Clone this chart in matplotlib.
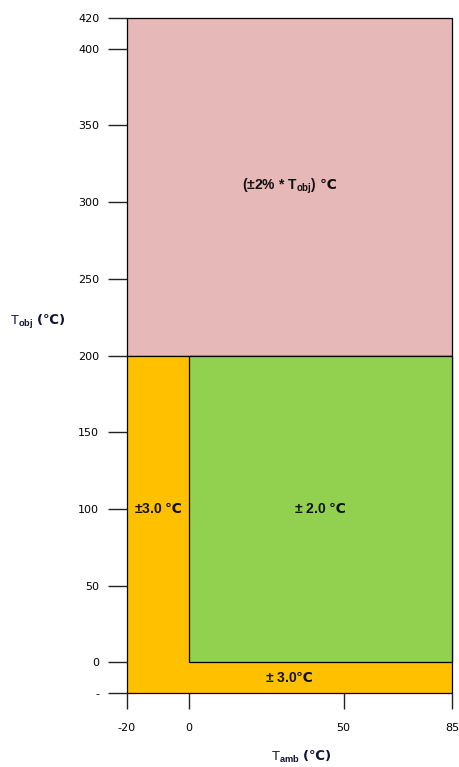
import matplotlib
matplotlib.use('Agg')
import matplotlib.pyplot as plt
from matplotlib.patches import Rectangle

plt.rcParams['mathtext.fontset'] = 'custom'
plt.rcParams['mathtext.bf'] = 'Liberation Sans:bold'
plt.rcParams['mathtext.rm'] = 'Noto Sans CJK SC:bold'
plt.rcParams['mathtext.it'] = 'Liberation Sans:italic'

# ---- data ----
x_range = [-20, 85]
y_range = [-20, 420]
region_x0 = [-20, -20, 0]
region_x1 = [85, 85, 85]
region_y0 = [200, -20, 0]
region_y1 = [420, 200, 200]
region_colors = ['#E6B8B7', '#FFC000', '#92D050']

label_texts = [r"(±2% * T$_{\mathbf{obj}}$) $\mathrm{℃}$",
               r"±3.0 $\mathrm{℃}$",
               r"± 2.0 $\mathrm{℃}$",
               r"± 3.0$\mathrm{℃}$"]
label_x = [32.5, -10, 42.5, 32.5]
label_y = [310, 100, 100, -10]

xticks = [-20, 0, 50, 85]
xtick_labels = ['-20', '0', '50', '85']
yticks = [-20, 0, 50, 100, 150, 200, 250, 300, 350, 400, 420]
ytick_labels = ['-', '0', '50', '100', '150', '200', '250', '300', '350', '400', '420']

# ---- figure ----
W, H = 459, 767
fig = plt.figure(figsize=(W / 100, H / 100), dpi=100)
ax = fig.add_axes([127 / W, 1 - 693 / H, (452 - 127) / W, (693 - 18) / H])
ax.set_xlim(*x_range)
ax.set_ylim(*y_range)

for x0, x1, y0, y1, c in zip(region_x0, region_x1, region_y0, region_y1, region_colors):
    ax.add_patch(Rectangle((x0, y0), x1 - x0, y1 - y0, facecolor=c,
                           edgecolor='black', linewidth=0.9, clip_on=False))

for t, x, y in zip(label_texts, label_x, label_y):
    ax.text(x, y, t, ha='center', va='center', fontsize=10, fontweight='bold',
            family='Liberation Sans', color='#111111')

for s in ax.spines.values():
    s.set_visible(False)

ax.set_xticks(xticks)
ax.set_xticklabels(xtick_labels)
ax.set_yticks(yticks)
ax.set_yticklabels(ytick_labels)
ax.tick_params(axis='y', length=13.5, width=1.0, pad=6.5, labelsize=8, color='#222222')
ax.tick_params(axis='x', length=11.5, width=1.0, pad=10, labelsize=8, color='#222222')

fig.text(301 / W, 1 - 757 / H, r"T$_{\mathbf{amb}}$ $\mathrm{(℃)}$", ha='center', va='center',
         fontsize=9.5, family='Liberation Sans', color='#111133')
fig.text(10 / W, 1 - 322 / H, r"T$_{\mathbf{obj}}$ $\mathrm{(℃)}$", ha='left', va='center',
         fontsize=9.5, family='Liberation Sans', color='#111133')

fig.savefig('out.png', dpi=100)
